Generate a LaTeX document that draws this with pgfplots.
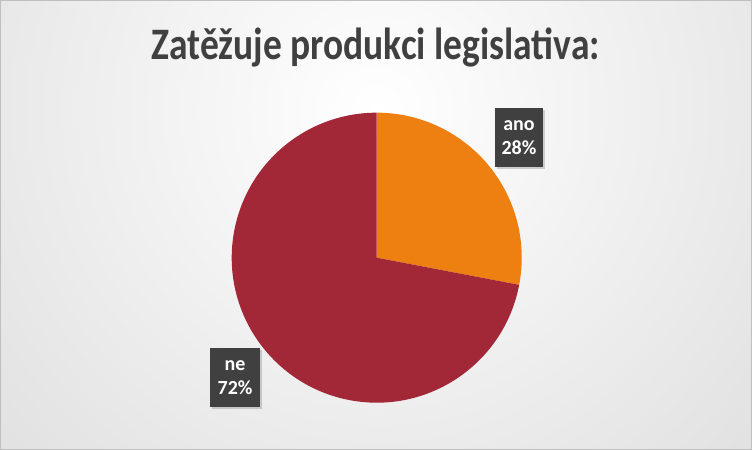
\documentclass[border=0pt]{standalone}
\usepackage{pgfplots}
\pgfplotsset{compat=1.18}
\usepackage{pgfplotstable}
\usepackage{graphicx}
\usepackage{fontspec}
\setmainfont{Carlito}
\usetikzlibrary{shadows}
\definecolor{anoc}{HTML}{EE8011}
\definecolor{nec}{HTML}{A22737}
\definecolor{lbl}{HTML}{404040}
\definecolor{bgout}{HTML}{C2C2C2}
\pgfdeclareradialshading{bgshade}{\pgfpoint{0bp}{0bp}}{color(0bp)=(white); color(50bp)=(bgout)}
\pgfplotstableread{
label value
ano 28
ne 72
}\pietable
\begin{document}
\begin{tikzpicture}
\pgfplotstablegetelem{0}{value}\of\pietable \let\vano\pgfplotsretval
\pgfplotstablegetelem{1}{value}\of\pietable \let\vne\pgfplotsretval
\pgfmathsetmacro\aA{90}
\pgfmathsetmacro\aB{90-3.6*\vano}
\pgfmathsetmacro\aC{\aB-3.6*\vne}
\begin{axis}[
  scale only axis, x=145bp, y=145bp,
  xmin=-2.598, xmax=2.588, ymin=-1.326, ymax=1.777,
  hide axis, clip=false,
]
\coordinate (SW) at (rel axis cs:0,0);
\coordinate (NE) at (rel axis cs:1,1);
\begin{scope}
\clip (rel axis cs:0,0) rectangle (rel axis cs:1,1);
\shade[shading=bgshade, overlay] (axis cs:0,1.02) circle[radius=520bp];
\end{scope}
\draw[color=black!25, line width=0.8bp] ([xshift=0.4bp,yshift=0.4bp]rel axis cs:0,0) rectangle ([xshift=-0.4bp,yshift=-0.4bp]rel axis cs:1,1);
% pie slices
\fill[anoc] (axis cs:0,0) -- (axis cs:{cos(\aA)},{sin(\aA)}) arc[start angle=\aA, end angle=\aB, radius=145bp] -- cycle;
\fill[nec] (axis cs:0,0) -- (axis cs:{cos(\aB)},{sin(\aB)}) arc[start angle=\aB, end angle=\aC, radius=145bp] -- cycle;
% title
\node[anchor=base, text=lbl, inner sep=0pt, font=\bfseries\fontsize{37.5bp}{43bp}\selectfont] at (axis cs:-0.006,1.370) {\scalebox{1}[1.2]{Zatěžuje produkci legislativa:}};
% data labels
\node[fill=lbl, text=white, font=\bfseries\fontsize{20bp}{24bp}\selectfont, align=center, minimum width=48bp, minimum height=59bp, inner sep=0pt,
  drop shadow={shadow xshift=2bp, shadow yshift=-2.5bp, opacity=0.35}] at (axis cs:0.981,0.829) {ano\\28\%};
\node[fill=lbl, text=white, font=\bfseries\fontsize{20bp}{24bp}\selectfont, align=center, minimum width=50bp, minimum height=59bp, inner sep=0pt,
  drop shadow={shadow xshift=2bp, shadow yshift=-2.5bp, opacity=0.35}] at (axis cs:-0.977,-0.826) {ne\\72\%};
\end{axis}
\pgfresetboundingbox
\useasboundingbox (SW) rectangle (NE);
\end{tikzpicture}
\end{document}
